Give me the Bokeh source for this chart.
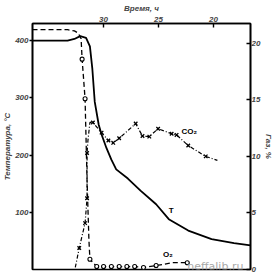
from bokeh.plotting import figure
from bokeh.models import Range1d, LinearAxis, FixedTicker, Label
from bokeh.embed import file_html
from bokeh.resources import INLINE

# Temperature curve T (left axis, °C) vs time (h)
t_time = [36.46, 33.27, 32.65, 32.12, 31.59, 31.24, 31.02, 30.80, 30.44, 30.18, 29.73,
          29.29, 28.85, 27.79, 26.64, 25.22, 24.07, 22.30, 20.18, 18.14, 16.64]
t_temp = [400, 400, 403, 408, 405, 390, 351, 293, 253, 236, 212,
          192, 175, 159, 138, 114, 88, 68, 53, 46, 42]

# O2 (right axis, %)
o2_time = [36.46, 33.27, 32.65, 32.30, 32.04, 31.95, 31.68, 31.50, 31.33, 31.24, 30.62,
           30.00, 29.29, 28.58, 27.88, 27.17, 26.37, 25.22, 23.72, 22.39]
o2_pct = [21.2, 21.2, 21.1, 20.9, 20.4, 18.6, 15.1, 7.9, 2.6, 0.9, 0.26,
          0.26, 0.26, 0.26, 0.26, 0.26, 0.18, 0.35, 0.6, 0.6]
o2_marked = [False, False, False, False, False, True, True, False, False, True, True,
             True, True, True, True, True, True, True, False, True]

# CO2 (right axis, %)
co2_time = [32.57, 32.21, 31.68, 31.50, 31.50, 31.42, 31.24, 30.97, 30.18, 29.56, 29.12,
            28.58, 27.08, 26.46, 25.84, 25.04, 23.81, 23.36, 22.30, 20.71, 19.65]
co2_pct = [0.18, 1.9, 4.1, 6.3, 10.3, 11.4, 13.0, 13.0, 12.1, 11.4, 11.2,
           11.6, 12.9, 11.8, 11.75, 12.45, 12.0, 11.9, 10.96, 10.0, 9.65]
co2_marked = [False, True, True, True, True, False, False, True, True, True, True,
              True, True, True, True, True, True, True, True, True, False]

temp_ticks = [100, 200, 300, 400]
gas_ticks = [0, 5, 10, 15, 20]
time_ticks = [30, 25, 20]

FONT = "Liberation Sans"

p = figure(width=276, height=275, output_backend="svg", toolbar_location=None,
           x_range=Range1d(36.46, 16.64), y_range=Range1d(0, 430),
           x_axis_location="above",
           min_border_left=0, min_border_right=0, min_border_top=0, min_border_bottom=6)
p.xgrid.visible = False
p.ygrid.visible = False
p.outline_line_color = "black"
p.outline_line_width = 1.6
p.background_fill_color = "white"
p.border_fill_color = "white"

p.extra_y_ranges = {"gas": Range1d(0, 21.75)}
ax_r = LinearAxis(y_range_name="gas")
p.add_layout(ax_r, "right")


def style_axis(ax, label, tick_in, tick_out, lab_stand, maj_stand):
    ax.axis_label = label
    ax.axis_label_text_font = FONT
    ax.axis_label_text_font_size = "8px"
    ax.axis_label_text_font_style = "bold italic"
    ax.axis_label_standoff = lab_stand
    ax.major_label_text_font = FONT
    ax.major_label_text_font_size = "8px"
    ax.major_label_text_font_style = "bold italic"
    ax.major_label_standoff = maj_stand
    ax.major_tick_in = tick_in
    ax.major_tick_out = tick_out
    ax.minor_tick_in = 0
    ax.minor_tick_out = 0
    ax.axis_line_width = 1.6
    ax.major_tick_line_width = 1.4


p.yaxis[0].ticker = FixedTicker(ticks=temp_ticks)
style_axis(p.yaxis[0], "Температура, °С", 0, 3, 0, 1)
ax_r.ticker = FixedTicker(ticks=gas_ticks)
style_axis(ax_r, "Газ, %", 4, 0, 1, 1)
p.xaxis[0].ticker = FixedTicker(ticks=time_ticks)
style_axis(p.xaxis[0], "Время, ч", 4, 0, 1, 2)

# Temperature
p.line(t_time, t_temp, line_color="black", line_width=1.8)

# O2
p.line(o2_time, o2_pct, y_range_name="gas", line_color="black", line_width=1.3,
       line_dash="5 3")
o2_mt = [t for t, m in zip(o2_time, o2_marked) if m]
o2_mp = [v for v, m in zip(o2_pct, o2_marked) if m]
p.scatter(o2_mt, o2_mp, y_range_name="gas", marker="circle", size=4,
          fill_color="white", line_color="black", line_width=1.1)

# CO2
p.line(co2_time, co2_pct, y_range_name="gas", line_color="black", line_width=1.2,
       line_dash="4 2 1 2")
co2_mt = [t for t, m in zip(co2_time, co2_marked) if m]
co2_mp = [v for v, m in zip(co2_pct, co2_marked) if m]
p.scatter(co2_mt, co2_mp, y_range_name="gas", marker="x", size=5,
          line_color="black", line_width=1.3)

lab_kw = dict(text_font=FONT, text_font_size="8px", text_font_style="bold",
              text_color="black")
p.add_layout(Label(x=22.92, y=11.84, y_range_name="gas", text="CO₂",
                   text_baseline="bottom", **lab_kw))
p.add_layout(Label(x=24.07, y=94.7, text="T", text_baseline="bottom", **lab_kw))
p.add_layout(Label(x=24.6, y=0.96, y_range_name="gas", text="O₂",
                   text_baseline="bottom", **lab_kw))
p.add_layout(Label(x=22.39, y=-0.3, y_range_name="gas", text="neffalib.ru",
                   text_baseline="bottom", text_font="DejaVu Sans",
                   text_font_size="11px", text_color="#a8a8a8"))

open("out.html", "w").write(file_html(p, INLINE))
